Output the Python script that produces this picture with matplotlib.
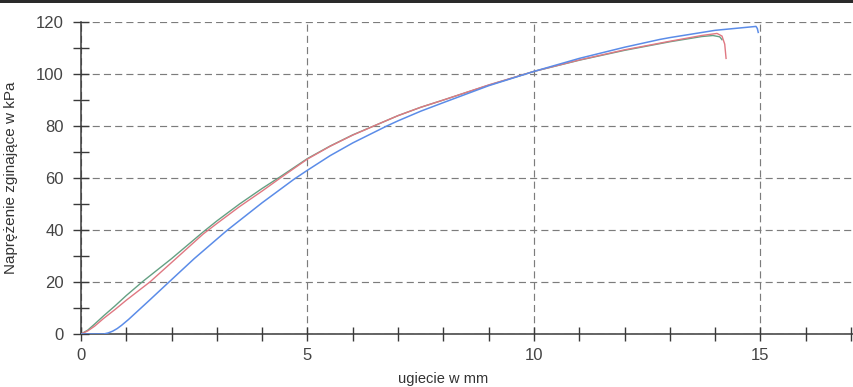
import matplotlib
matplotlib.use('Agg')
import matplotlib.pyplot as plt
from matplotlib.patches import Rectangle

plt.rcParams['font.family'] = ['Liberation Sans', 'DejaVu Sans']

# three bending tests: deflection [mm] vs. bending stress [kPa]
green_x = [0, 0.15, 0.3, 0.5, 0.75, 1.0, 1.37, 2.0, 2.7, 3.0, 3.5, 4.0, 4.4, 5.0, 5.5, 6.0, 6.53, 7.0, 7.5, 8.0, 9.0, 10.0, 11.0, 12.0, 13.0, 13.7, 13.95, 14.1, 14.15]
green_y = [0, 1.5, 3.8, 7.0, 10.8, 14.8, 20.3, 29, 39.3, 43.5, 50, 56, 60.5, 67.5, 72.3, 76.6, 80.5, 84, 87.2, 90, 95.7, 101, 105.3, 109.1, 112.4, 114.4, 114.8, 114.3, 113.2]

red_x = [0, 0.15, 0.3, 0.5, 0.75, 1.0, 1.52, 2.0, 2.7, 3.0, 3.5, 4.0, 4.4, 5.0, 5.5, 6.0, 6.53, 7.0, 7.5, 8.0, 9.0, 10.0, 11.0, 12.0, 13.0, 13.7, 14.04, 14.15, 14.21, 14.24]
red_y = [0, 1.2, 3.0, 6, 9.4, 13, 20, 27.5, 38.5, 42.5, 49, 55, 60, 67.3, 72.2, 76.5, 80.5, 84, 87.2, 90, 95.8, 101, 105.4, 109.3, 112.6, 114.8, 115.6, 114.6, 111.5, 106]

blue_x = [0, 0.5, 0.6, 0.7, 0.8, 0.9, 1.05, 1.2, 1.5, 1.9, 2.5, 3.22, 4.0, 4.7, 5.0, 5.5, 6.0, 6.75, 7.0, 7.5, 8.0, 9.0, 10.0, 11.0, 12.0, 12.78, 13.0, 14.0, 14.9, 14.93, 14.95]
blue_y = [0, 0, 0.4, 1.1, 2.1, 3.4, 5.6, 8, 12.8, 19.3, 29.0, 39.8, 50.5, 59.5, 63, 68.6, 73.5, 80, 82, 85.7, 89, 95.5, 101, 106, 110.3, 113.3, 114, 116.8, 118.3, 117.5, 116]

x_major = [0, 5, 10, 15]
y_major = [0, 20, 40, 60, 80, 100, 120]

fig = plt.figure(figsize=(8.54, 3.87), dpi=100)
ax = fig.add_axes([81 / 854, 1 - 334 / 387, 1 - 81 / 854, 312 / 387])

ax.plot(green_x, green_y, color='#64a083', lw=1.0, zorder=3)
ax.plot(red_x, red_y, color='#e07882', lw=1.0, zorder=3)
ax.plot(blue_x, blue_y, color='#5b8ce8', lw=1.1, zorder=4)

ax.set_xlim(0, (854 - 81) / 45.3)
ax.set_ylim(0, 120)
ax.set_xticks(x_major)
ax.set_xticks(range(0, 18), minor=True)
ax.set_yticks(y_major)
ax.set_yticks(range(10, 120, 20), minor=True)

for s in ['top', 'right']:
	ax.spines[s].set_visible(False)
for s in ['left', 'bottom']:
	ax.spines[s].set_color('#3a3a3a')
	ax.spines[s].set_linewidth(1.1)

ax.tick_params(which='both', direction='inout', color='#3a3a3a', width=1.0, labelcolor='#444444')
ax.tick_params(axis='x', which='both', length=10, labelsize=12, pad=5)
ax.tick_params(axis='y', which='both', length=11, labelsize=12, pad=7)

ax.grid(True, which='major', color='#7c7c7c', linestyle=(0, (6, 3.5)), linewidth=0.85)
ax.set_axisbelow(True)

ax.set_xlabel('ugiecie w mm', fontsize=10.5, color='#333333')
ax.xaxis.set_label_coords(0.468, -0.143)
ax.xaxis.label.set_va('center')
ax.set_ylabel('Naprężenie zginające w kPa', fontsize=11, color='#333333')
ax.yaxis.set_label_coords(-0.082, 0.5)

# dark strip of the scan along the top edge
fig.add_artist(Rectangle((0, 1 - 3 / 387), 1, 3 / 387, transform=fig.transFigure, color='#2a2a2a', lw=0))

fig.savefig('out.png', dpi=100)
